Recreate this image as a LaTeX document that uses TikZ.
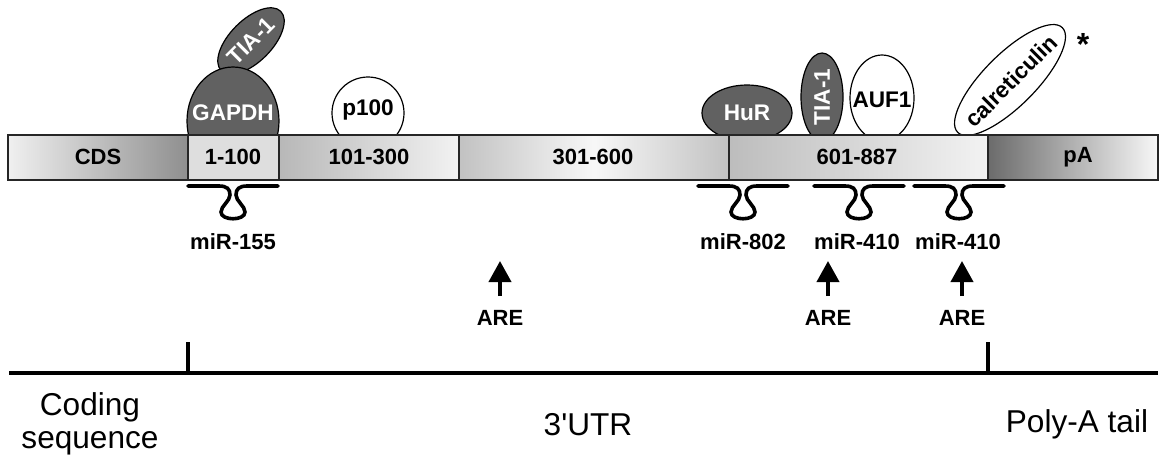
\documentclass[tikz,border=0pt]{standalone}
\usepackage{fontspec}
\setmainfont{Liberation Sans}
\usetikzlibrary{shapes.geometric,arrows.meta}
\begin{document}
\begin{tikzpicture}[x=0.5pt,y=-0.5pt,
  seg/.style={draw=black!85, line width=0.8pt},
  lab/.style={font=\bfseries\fontsize{11}{12}\selectfont, text=black, inner sep=0pt},
  prot/.style={ellipse, draw=black, line width=0.6pt, inner sep=-15pt,
     font=\bfseries\fontsize{11.3}{12}\selectfont},
  dark/.style={prot, fill=black!62, text=white},
  light/.style={prot, fill=white, text=black},
  big/.style={font=\fontsize{15.8}{16.5}\selectfont, align=center, inner sep=0pt},
  arr/.style={line width=2pt, -{Triangle[width=11pt,length=10.5pt]}},
  hp/.style={line width=1.8pt, line cap=round},
  hairpin/.pic={\draw[hp] (-45,0) -- (-14,0) .. controls (-6,0) and (-3,3) .. (-3,9)
     .. controls (-3,15) and (-12,20) .. (-12,26) .. controls (-12,35) and (12,35) .. (12,26)
     .. controls (12,20) and (3,15) .. (3,9) .. controls (3,3) and (6,0) .. (14,0) -- (45,0);}
]
\useasboundingbox (0,0) rectangle (1160,457);

% proteins
\node[dark, minimum width=42pt, minimum height=21pt, rotate=45] (tiaA) at (251,41) {TIA-1};
\node[dark, minimum width=46pt, minimum height=54pt] (gapdh) at (233,121)
  {\raisebox{4pt}[\height][\depth]{GAPDH}};
\node[light, minimum width=36pt, minimum height=36pt] (p100) at (368,113)
  {\raisebox{1.5pt}[\height][\depth]{p100}};
\node[dark, minimum width=45pt, minimum height=28pt] (hur) at (747,113) {HuR};
\node[dark, minimum width=44pt, minimum height=21pt, rotate=90] (tiaB) at (822,97) {TIA-1};
\node[light, minimum width=32pt, minimum height=43pt] (auf1) at (882,98)
  {\raisebox{-1pt}[\height][\depth]{AUF1}};
\node[light, minimum width=74pt, minimum height=26pt, rotate=45] (calr) at (1010,80)
  {\raisebox{-0.7pt}[\height][\depth]{calreticulin}};
\node[font=\bfseries\fontsize{16}{16}\selectfont, inner sep=0pt] (star) at (1083,44) {*};

% bar segments
\path[seg, left color=black!6, right color=black!44] (8,135) rectangle (188,180);
\path[seg, fill=black!13] (188,135) rectangle (279,180);
\path[seg, left color=black!28, right color=black!5] (279,135) rectangle (459,180);
\path[seg, left color=black!24, right color=black!24, middle color=black!3] (459,135) rectangle (729,180);
\path[seg, left color=black!26, right color=black!5] (729,135) rectangle (988,180);
\path[seg, left color=black!58, right color=black!3] (988,135) rectangle (1158,180);

\node[lab] (cds) at (98,157) {CDS};
\node[lab] (s1) at (233,157) {1-100};
\node[lab] (s2) at (369,157) {101-300};
\node[lab] (s3) at (593,157) {301-600};
\node[lab] (s4) at (857,157) {601-887};
\node[lab] (pa) at (1078,157) {pA};

% miRNA hairpins
\pic (h1) at (233,186) {hairpin};
\pic (h2) at (743,186) {hairpin};
\pic (h3) at (859,186) {hairpin};
\pic (h4) at (959,186) {hairpin};
\node[lab] (m1) at (233,242) {miR-155};
\node[lab] (m2) at (743,242) {miR-802};
\node[lab] (m3) at (857,242) {miR-410};
\node[lab] (m4) at (958,242) {miR-410};

% AREs
\node[lab] (are1) at (500,318) {ARE};
\node[lab] (are2) at (828,318) {ARE};
\node[lab] (are3) at (962,318) {ARE};
\coordinate (t1) at (500,261);
\coordinate (t2) at (828,261);
\coordinate (t3) at (962,261);
\draw[arr] (are1.north) ++(0,-14) -- (t1);
\draw[arr] (are2.north) ++(0,-14) -- (t2);
\draw[arr] (are3.north) ++(0,-14) -- (t3);

% bottom scale
\coordinate (l0) at (9,373);
\coordinate (l1) at (1158,373);
\coordinate (k1) at (188,373);
\coordinate (k1t) at (188,342);
\coordinate (k2) at (988,373);
\coordinate (k2t) at (988,342);
\draw[line width=1.6pt] (l0) -- (l1);
\draw[line width=1.6pt] (k1) -- (k1t);
\draw[line width=1.6pt] (k2) -- (k2t);

\node[big] (cs) at (90,424) {Coding\\sequence};
\node[big] (utr) at (588,425) {3\textquotesingle UTR};
\node[big] (poly) at (1077,424) {Poly-A tail};
\end{tikzpicture}
\end{document}
